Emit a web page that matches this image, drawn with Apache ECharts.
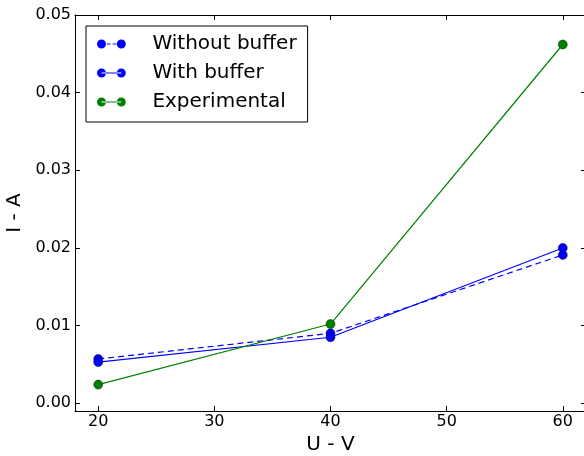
<!DOCTYPE html>
<html>
<head>
<meta charset="utf-8">
<script src="https://cdn.jsdelivr.net/npm/echarts@6/dist/echarts.min.js"></script>
<style>
  html, body { margin: 0; padding: 0; background: #fff; }
  #chart { width: 584px; height: 456px; }
</style>
</head>
<body>
<div id="chart"></div>
<script>
const voltages = [20, 40, 60]
const withoutBuffer = [0.0057, 0.0090, 0.0191]
const withBuffer = [0.0053, 0.0085, 0.0200]
const experimental = [0.0024, 0.0102, 0.0462]
const xTicks = [20, 30, 40, 50, 60]
const yTicks = [0, 0.01, 0.02, 0.03, 0.04, 0.05]

const FONT = 'DejaVu Sans'
const BLUE = '#0000ff'
const GREEN = '#008000'

// legend icons: marker - line - marker (matplotlib style)
const circles = 'M0,5a5,5 0 1,0 10,0a5,5 0 1,0 -10,0M22,5a5,5 0 1,0 10,0a5,5 0 1,0 -10,0'
const solidIcon = 'path://' + circles + 'M5,4.4h22v1.2h-22z'
const dashIcon = 'path://' + circles + 'M11,4.4h4v1.2h-4zM17.5,4.4h4v1.2h-4z'

const pts = ys => voltages.map((v, i) => [v, ys[i]])

const chart = echarts.init(document.getElementById('chart'))

const tickCommon = { inside: true, length: 5, lineStyle: { color: '#000', width: 1 } }
const lineCommon = { show: true, onZero: false, lineStyle: { color: '#000', width: 1 } }

chart.setOption({
  backgroundColor: '#fff',
  animation: false,
  grid: { left: 75, top: 15, right: -2, bottom: 45, outerBoundsMode: 'none', containLabel: false },
  legend: {
    left: 86,
    top: 26,
    orient: 'vertical',
    itemWidth: 30,
    itemHeight: 9,
    itemGap: 9,
    padding: [8, 11, 10, 11],
    borderColor: '#000',
    borderWidth: 1,
    borderRadius: 0,
    textStyle: { fontFamily: FONT, fontSize: 20, color: '#000', padding: [0, 0, 0, 21] },
    data: [
      { name: 'Without buffer', icon: dashIcon, itemStyle: { color: BLUE, borderWidth: 0 } },
      { name: 'With buffer', icon: solidIcon, itemStyle: { color: BLUE, borderWidth: 0 } },
      { name: 'Experimental', icon: solidIcon, itemStyle: { color: GREEN, borderWidth: 0 } }
    ]
  },
  xAxis: [
    {
      type: 'value',
      min: 18,
      max: 62,
      name: 'U - V',
      nameLocation: 'middle',
      nameGap: 10,
      nameTextStyle: { fontFamily: FONT, fontSize: 20, color: '#000' },
      axisLine: lineCommon,
      axisTick: Object.assign({ customValues: xTicks }, tickCommon),
      axisLabel: { customValues: xTicks, fontFamily: FONT, fontSize: 16, color: '#000', margin: 3 },
      splitLine: { show: false }
    },
    {
      type: 'value',
      position: 'top',
      min: 18,
      max: 62,
      axisLine: lineCommon,
      axisTick: Object.assign({ customValues: xTicks }, tickCommon),
      axisLabel: { show: false },
      splitLine: { show: false }
    }
  ],
  yAxis: [
    {
      type: 'value',
      min: -0.001,
      max: 0.05,
      name: 'I - A',
      nameLocation: 'middle',
      nameGap: 37,
      nameTextStyle: { fontFamily: FONT, fontSize: 20, color: '#000' },
      axisLine: lineCommon,
      axisTick: Object.assign({ customValues: yTicks }, tickCommon),
      axisLabel: {
        customValues: yTicks, fontFamily: FONT, fontSize: 16, color: '#000', margin: 4,
        formatter: v => v.toFixed(2)
      },
      splitLine: { show: false }
    },
    {
      type: 'value',
      position: 'right',
      min: -0.001,
      max: 0.05,
      axisLine: lineCommon,
      axisTick: Object.assign({ customValues: yTicks }, tickCommon),
      axisLabel: { show: false },
      splitLine: { show: false }
    }
  ],
  series: [
    {
      name: 'Without buffer',
      type: 'line',
      data: pts(withoutBuffer),
      symbol: 'circle',
      symbolSize: 9,
      lineStyle: { color: BLUE, width: 1.2, type: [6, 4] },
      itemStyle: { color: BLUE, borderColor: '#000033', borderWidth: 0.5 }
    },
    {
      name: 'With buffer',
      type: 'line',
      data: pts(withBuffer),
      symbol: 'circle',
      symbolSize: 9,
      lineStyle: { color: BLUE, width: 1.2 },
      itemStyle: { color: BLUE, borderColor: '#000033', borderWidth: 0.5 }
    },
    {
      name: 'Experimental',
      type: 'line',
      data: pts(experimental),
      symbol: 'circle',
      symbolSize: 9,
      lineStyle: { color: GREEN, width: 1.2 },
      itemStyle: { color: GREEN, borderColor: '#002200', borderWidth: 0.5 }
    }
  ]
})
</script>
</body>
</html>
